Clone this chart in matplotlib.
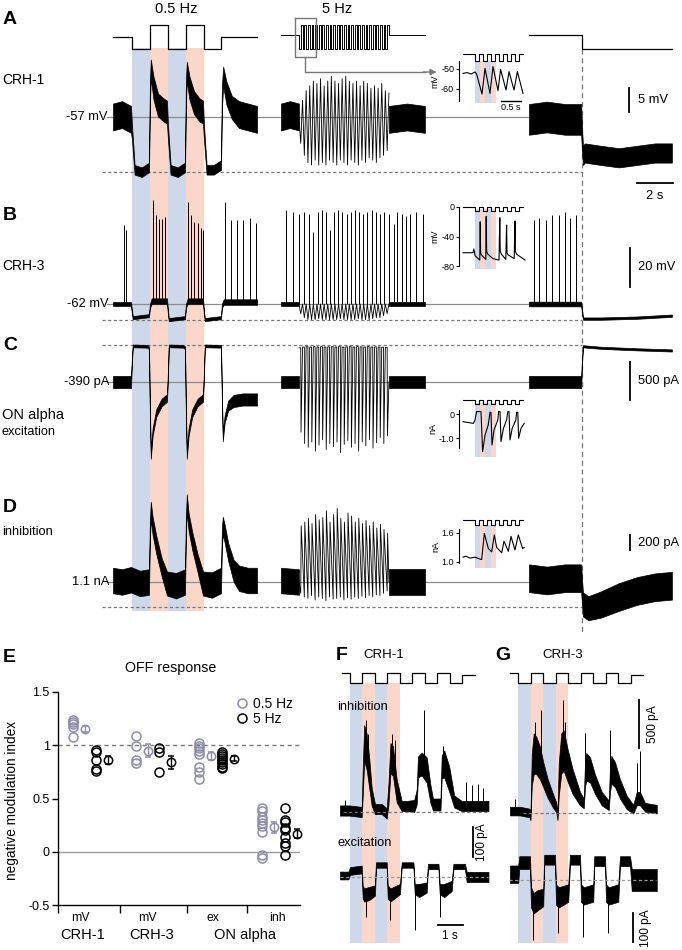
import numpy as np
import matplotlib
matplotlib.use('Agg')
import matplotlib.pyplot as plt
from matplotlib.lines import Line2D

plt.rcParams['font.family'] = ['Liberation Sans', 'DejaVu Sans']
plt.rcParams['axes.unicode_minus'] = False

# ======================= DATA =======================
# --- stimulus schedules (s) ---
stim1_t = [0, 1.05, 2.05, 3.05, 4.05, 5.05, 6.0, 8.0]
stim1_v = [0, -1, 1, -1, 1, -1, 0, 0]
band_edges = [1.05, 2.05, 3.05, 4.05, 5.05]
fast_start, fast_period, fast_cycles = 1.0, 0.2, 25
stim3_t = [0, 2.95, 7.94]
stim3_v = [0.15, -1, -1]
seg_start = [0.0, 9.33, 23.11]
step_time = 23.11 + 2.95

# --- Panel A, CRH-1 (mV) ---
A1_t = [0.0, 0.5, 1.0, 1.05, 1.2, 1.6, 2.0, 2.05, 2.1, 2.25, 2.5, 2.8, 3.0, 3.05, 3.2, 3.6, 4.0,
        4.05, 4.1, 4.25, 4.5, 4.8, 5.0, 5.05, 5.2, 5.6, 6.0, 6.05, 6.12, 6.3, 6.6, 7.0, 7.5, 8.0]
A1_mid = [-57, -56.5, -57.5, -60, -68, -68.5, -67.5, -52, -47, -51, -54.5, -55.5, -56, -60, -68, -68.5, -67.5,
          -52, -47.5, -51, -54, -55.5, -56, -60, -68, -68, -67, -53, -48.5, -52, -55, -56.5, -57, -57.5]
A1_hw = [2.8, 2.8, 2.8, 1.6, 1.0, 1.0, 1.0, 2.4, 2.0, 2.4, 2.4, 2.4, 2.4, 1.6, 1.0, 1.0, 1.0,
         2.4, 2.0, 2.4, 2.4, 2.4, 2.4, 1.6, 1.0, 1.0, 1.0, 2.4, 2.0, 2.4, 2.4, 2.8, 2.8, 2.8]
A2_pre = ([0, 0.5, 1.0], [-57, -56.5, -57], [2.8, 2.8, 2.8])
A2_post = ([6.0, 7.0, 8.0], [-57.5, -57, -57.5], [2.8, 2.8, 2.8])
A2_peaks = [-53.5, -51.5, -50.5, -49.5, -50, -49, -50.5, -49.5, -48.5, -49.5, -50, -49, -48.5,
            -49.5, -50, -49.5, -50.5, -49.5, -50, -51, -50.5, -51, -50, -51.5, -52]
A2_troughs = [-62.5, -65, -66.5, -67, -66, -67, -66.5, -67, -66, -66.5, -67, -66, -66.5,
              -67, -66, -66.5, -67, -66, -66.5, -65.5, -66, -66.5, -65.5, -65, -64]
A3_t = [0, 1, 2, 2.9, 2.95, 3.0, 3.1, 4, 5, 6, 7, 7.94]
A3_mid = [-57.5, -57, -57.5, -57.5, -62, -65, -64.5, -65, -65.5, -65, -64.5, -64.5]
A3_hw = [3.2, 3.2, 3.2, 3.2, 2.4, 2, 2, 2, 2, 2, 2, 2]

# --- Panel B, CRH-3 (mV) ---
B1_t = [0, 1.0, 1.05, 1.1, 2.0, 2.05, 2.15, 3.0, 3.05, 3.1, 4.0, 4.05, 4.15, 5.0, 5.05, 5.1, 6.0, 6.05, 6.15, 8.0]
B1_mid = [-62, -62, -66, -69, -68, -63, -60.5, -60.5, -66, -70, -69, -63, -60.5, -60.5, -66, -70, -69, -63, -61, -61]
B1_hw = [1, 1, 1, 0.8, 0.8, 1, 1.4, 1.4, 1, 0.8, 0.8, 1, 1.4, 1.4, 1, 0.8, 0.8, 1, 1.4, 1.4]
B1_spk_t = [0.61, 0.72, 2.22, 2.39, 2.56, 2.72, 2.89, 4.17, 4.33, 4.5, 4.72, 4.89, 5.0,
            6.22, 6.56, 6.89, 7.22, 7.61, 7.95]
B1_spk_v = [-21.5, -24, -8.7, -16.4, -18.4, -18.4, -17.4, -9.7, -16.4, -20, -20.5, -23, -24,
            -9.7, -19, -19, -19, -18, -20.5]
B2_pre = ([0, 1.0], [-62, -62], [1, 1])
B2_post = ([6.0, 8.0], [-62, -62], [1, 1])
B2_troughs = [-67, -69, -70, -70, -70, -69.5, -70, -70, -70, -70, -70, -69.5, -70,
              -70, -70, -70, -69.5, -70, -70, -70, -69.5, -69, -69, -68, -67]
B2_spk_t = [0.28, 0.67, 1.0, 1.28, 1.56, 1.78, 2.06, 2.28, 2.5, 2.72, 2.94, 3.17, 3.39, 3.67, 3.89, 4.11,
            4.33, 4.56, 4.78, 5.06, 5.28, 5.5, 5.72, 6.0, 6.28, 6.44, 6.72, 6.94, 7.17, 7.5, 7.89]
B2_spk_v = [-14, -15, -16, -15, -16, -25, -15, -14, -15, -24, -15, -14, -15, -16, -15, -14,
            -15, -16, -15, -14, -15, -16, -15, -16, -21, -15, -16, -17, -16, -15, -16]
B3_t = [0, 2.9, 2.95, 3.0, 4, 6, 7.94]
B3_mid = [-62, -62, -66, -69.5, -69.5, -69, -68]
B3_hw = [1.2, 1.2, 1, 0.6, 0.6, 0.6, 0.6]
B3_spk_t = [0.28, 0.56, 0.94, 1.28, 1.67, 2.0, 2.28, 2.61]
B3_spk_v = [-19, -18, -19, -16.4, -16.4, -14.8, -18, -16.4]

# --- Panel C, ON alpha excitation (pA) ---
C1_t = [0, 1.0, 1.05, 1.1, 1.9, 2.0, 2.05, 2.1, 2.2, 2.4, 2.7, 3.0, 3.05, 3.1, 3.9, 4.0,
        4.05, 4.1, 4.2, 4.4, 4.7, 5.0, 5.05, 5.1, 6.0, 6.05, 6.1, 6.2, 6.4, 6.7, 7.2, 8.0]
C1_mid = [-390, -390, -100, 85, 80, 60, -800, -1350, -1050, -800, -660, -600, -300, 85, 80, 60,
          -800, -1350, -1050, -800, -660, -600, -300, 85, 80, -600, -1120, -880, -700, -640, -620, -620]
C1_hw = [80, 80, 40, 18, 18, 18, 50, 50, 50, 50, 50, 50, 40, 18, 18, 18,
         50, 50, 50, 50, 50, 50, 40, 18, 18, 50, 50, 50, 65, 80, 80, 80]
C2_pre = ([0, 1.0], [-390, -390], [80, 80])
C2_post = ([6.0, 8.0], [-390, -390], [80, 80])
C2_tops = [60, 70, 75, 70, 75, 70, 75, 70, 72, 75, 70, 75, 70, 72, 75, 70, 75, 72, 70, 75, 70, 72, 70, 68, 65]
C2_troughs = [-1050, -1200, -1250, -1180, -1300, -1220, -1150, -1280, -1200, -1240, -1180, -1320, -1210,
              -1160, -1250, -1200, -1300, -1180, -1230, -1150, -1260, -1190, -1120, -1200, -1100]
C3_t = [0, 2.9, 2.95, 3.0, 4, 6, 7.94]
C3_mid = [-390, -390, -100, 80, 60, 40, 25]
C3_hw = [80, 80, 35, 14, 14, 14, 14]

# --- Panel D, ON alpha inhibition (pA) ---
D1_t = [0, 0.5, 1.0, 1.5, 2.0, 2.05, 2.1, 2.2, 2.4, 2.7, 3.0, 3.5, 4.0, 4.05, 4.1, 4.2, 4.4, 4.7, 5.0,
        5.5, 6.0, 6.05, 6.1, 6.2, 6.4, 6.7, 7.0, 7.5, 8.0]
D1_mid = [1120, 1100, 1130, 1080, 1100, 1800, 2050, 1850, 1600, 1300, 1080, 1050, 1100, 1850, 2150, 1900,
          1650, 1350, 1080, 1060, 1120, 1700, 1850, 1750, 1500, 1250, 1150, 1120, 1120]
D1_hw = [170, 170, 170, 170, 170, 120, 120, 120, 120, 120, 160, 170, 170, 120, 120, 120,
         120, 120, 160, 170, 170, 120, 120, 120, 120, 145, 170, 170, 170]
D2_pre = ([0, 1.0], [1120, 1100], [170, 170])
D2_post = ([6.0, 8.0], [1100, 1100], [170, 170])
D2_peaks = [1850, 1900, 1950, 1880, 2000, 1930, 1960, 2050, 1900, 2000, 2080, 1950, 1900,
            2020, 1980, 1900, 1950, 1880, 1920, 1850, 1900, 1820, 1870, 1800, 1750]
D2_troughs = [950, 900, 880, 920, 860, 900, 880, 850, 900, 870, 880, 900, 860,
              890, 870, 900, 880, 910, 890, 920, 900, 930, 920, 950, 980]
D3_t = [0, 1, 2, 2.9, 2.95, 3.0, 3.3, 4, 5, 6, 7, 7.94]
D3_mid = [1150, 1120, 1150, 1150, 950, 800, 750, 800, 900, 980, 1030, 1050]
D3_hw = [185, 185, 185, 185, 160, 160, 160, 175, 185, 185, 185, 185]

# reference levels (grey solid = resting, grey dashed = response level)
rest = {'A': -57, 'B': -62, 'C': -390, 'D': 1100}
dashlvl = {'A': -68.5, 'B': -70.2, 'C': 97, 'D': 767}

# --- insets (5 Hz zoom) ---
ins_stim_t = [0, 0.3, 0.4, 0.5, 0.6, 0.7, 0.8, 0.9, 1.0, 1.1, 1.2, 1.3, 1.4, 1.5]
ins_stim_v = [1, 0, 1, 0, 1, 0, 1, 0, 1, 0, 1, 0, 1, 1]
ins_band_edges = [0.3, 0.43, 0.56, 0.69, 0.82]
insA_t = [0, 0.1, 0.2, 0.3, 0.34, 0.475, 0.55, 0.675, 0.75, 0.875, 0.94, 1.075, 1.15, 1.275, 1.36, 1.5]
insA_v = [-52.2, -51.8, -52.5, -51.5, -52.5, -62.5, -49.7, -62.2, -48.8, -60.8, -50.2, -60.5, -51.3, -60.5, -51.3, -62.2]
insB_t = [0, 0.25, 0.27, 0.29, 0.3, 0.42, 0.43, 0.44, 0.46, 0.57, 0.58, 0.59, 0.62, 0.75, 0.9, 0.92,
          0.93, 0.96, 1.07, 1.09, 1.10, 1.13, 1.28, 1.30, 1.31, 1.34, 1.55]
insB_v = [-62, -62, -57, -62, -66, -72, -20, -62, -65, -71, -13, -60, -64, -70, -72, -14.5,
          -60, -64, -71, -24.5, -62, -65, -70, -19, -60, -64, -72]
insC_t = [0, 0.26, 0.30, 0.34, 0.45, 0.49, 0.55, 0.63, 0.675, 0.70, 0.725, 0.775, 0.87, 0.89, 0.925,
          0.95, 1.01, 1.09, 1.12, 1.15, 1.175, 1.23, 1.32, 1.34, 1.37, 1.39, 1.45, 1.53]
insC_v = [-0.32, -0.39, -0.25, 0.10, 0.10, -1.57, -0.88, -0.46, 0.07, 0.07, -1.29, -0.67, -0.25, 0.10, 0.10,
          -1.15, -0.6, -0.25, 0.10, 0.10, -1.08, -0.6, -0.25, 0.07, 0.07, -1.01, -0.6, -0.39]
insD_t = [0, 0.067, 0.175, 0.3, 0.425, 0.467, 0.533, 0.633, 0.717, 0.783, 0.842, 0.967, 1.025,
          1.133, 1.2, 1.3, 1.383, 1.49, 1.53]
insD_v = [1.1, 1.12, 1.08, 1.1, 1.06, 1.05, 1.59, 1.28, 1.21, 1.56, 1.30, 1.19, 1.43,
          1.22, 1.53, 1.25, 1.56, 1.28, 1.30]

# --- Panel E: negative modulation index ---
groups_top = ['mV', 'mV', 'ex', 'inh']
groups_bottom = ['CRH-1', 'CRH-3', 'ON alpha']
e05 = [[1.24, 1.22, 1.20, 1.17, 1.08],
       [1.09, 0.99, 0.86, 0.83],
       [1.02, 0.99, 0.97, 0.95, 0.92, 0.80, 0.75, 0.68],
       [0.41, 0.38, 0.33, 0.30, 0.27, 0.24, 0.19, -0.03, -0.06]]
e5 = [[0.96, 0.94, 0.86, 0.78, 0.76],
      [0.97, 0.94, 0.75],
      [0.94, 0.92, 0.90, 0.88, 0.86, 0.84, 0.82, 0.80, 0.79],
      [0.41, 0.30, 0.28, 0.22, 0.20, 0.14, 0.08, 0.05, -0.03]]
mean05 = [1.15, 0.95, 0.90, 0.23]
sem05 = [0.03, 0.06, 0.04, 0.05]
mean5 = [0.86, 0.84, 0.875, 0.17]
sem5 = [0.04, 0.06, 0.02, 0.04]

# --- Panels F / G (pA) ---
FG_stim_t = [0, 0.33, 0.83, 1.33, 1.83, 2.33, 2.83, 3.33, 3.83, 4.33, 4.83, 5.33]
FG_stim_v = [1, 0, 1, 0, 1, 0, 1, 0, 1, 0, 0.8, 0.8]
FG_band_edges = [0.33, 0.83, 1.33, 1.83, 2.33]
FI_t = [-0.07, 0.3, 0.8, 0.85, 0.9, 1.0, 1.1, 1.2, 1.33, 1.6, 1.8, 1.87, 1.95, 2.05, 2.2, 2.4, 2.6,
        2.9, 3.0, 3.05, 3.2, 3.4, 3.55, 3.65, 3.95, 4.0, 4.1, 4.3, 4.5, 4.8, 5.2, 5.5, 5.87]
FI_mid = [5, 5, 0, 120, 230, 200, 130, 50, 10, 10, -5, 60, 180, 170, 70, 20, 20,
          20, 50, 150, 160, 140, 60, 25, 25, 150, 160, 110, 35, 20, 20, 20, 20]
FI_hw = [17, 17, 17, 50, 60, 60, 50, 30, 17, 17, 17, 35, 50, 50, 38, 17, 17,
         20, 25, 35, 38, 42, 30, 20, 20, 38, 45, 42, 20, 17, 17, 17, 17]
FI_spk_t = [0.13, 0.97, 1.05, 2.0, 2.13, 3.3, 4.05, 4.97, 5.2, 5.47, 5.67]
FI_spk_v = [40, 306, 260, 260, 240, 340, 220, 100, 90, 95, 80]
FI_spk_b = [10, 200, 180, 160, 150, 140, 150, 20, 20, 20, 20]
FE_t = [-0.07, 0.27, 0.33, 0.8, 0.84, 0.9, 1.1, 1.33, 1.37, 1.8, 1.84, 1.95, 2.33, 2.4, 2.87,
        2.92, 3.1, 3.4, 3.45, 3.87, 3.92, 4.1, 4.4, 4.47, 4.93, 5.0, 5.87]
FE_mid = [5, 5, 20, 25, -50, -60, -55, -45, 40, 40, -50, -60, -40, 40, 40,
          -40, -45, -35, 35, 35, -40, -45, -30, 35, 35, 0, 0]
FE_hw = [13, 13, 13, 13, 22, 22, 22, 17, 9, 9, 22, 22, 17, 9, 9,
         17, 22, 17, 9, 9, 17, 22, 17, 9, 9, 17, 17]
FE_spk_t = [0.97, 1.93, 2.93, 3.93]
FE_spk_v = [-133, -144, -178, -133]
FE_spk_b = [-50, -50, -40, -40]
GI_t = [0, 0.4, 0.78, 0.82, 0.87, 0.95, 1.05, 1.2, 1.33, 1.5, 1.73, 1.85, 1.9, 1.95, 2.05, 2.15, 2.3, 2.5,
        2.8, 2.95, 3.0, 3.05, 3.2, 3.4, 3.67, 3.95, 4.0, 4.05, 4.2, 4.4, 4.67, 4.93, 5.07, 5.2, 5.4, 5.87]
GI_mid = [20, 20, 0, -40, 450, 620, 600, 520, 400, 260, 120, 60, -40, 350, 620, 650, 500, 330,
          150, 100, 400, 480, 450, 300, 150, 80, 350, 450, 400, 250, 110, 40, 150, 150, 60, 40]
GI_hw = [45, 45, 45, 35, 170, 210, 195, 170, 130, 100, 70, 50, 35, 170, 210, 210, 170, 130,
         70, 50, 130, 145, 130, 100, 70, 50, 130, 145, 130, 100, 70, 45, 70, 70, 45, 45]
GI_spk_t = [0.2, 1.0, 1.23, 2.13, 2.2, 3.0, 4.0, 5.07, 5.2]
GI_spk_v = [150, 946, 1071, 1175, 950, 832, 863, 520, 650]
GI_spk_b = [20, 500, 500, 600, 550, 400, 350, 100, 100]
GE_t = [0, 0.33, 0.37, 0.8, 0.84, 0.95, 1.1, 1.33, 1.37, 1.8, 1.84, 1.95, 2.33, 2.4, 2.8,
        2.84, 2.95, 3.33, 3.37, 3.8, 3.84, 3.95, 4.33, 4.4, 4.8, 4.87, 5.87]
GE_mid = [20, 20, 60, 60, -60, -80, -70, -60, 70, 70, -50, -60, -45, 70, 70,
          -45, -55, -45, 65, 65, -45, -55, -45, 65, 65, 0, 0]
GE_hw = [30, 30, 22, 22, 35, 35, 35, 30, 17, 17, 35, 35, 30, 17, 17,
         30, 30, 30, 17, 17, 30, 30, 30, 17, 17, 38, 38]
GE_spk_t = [0.93, 1.93, 2.93, 3.93]
GE_spk_v = [-207, -184, -196, -184]
GE_spk_b = [-60, -50, -45, -45]

# ======================= STYLE / LAYOUT =======================
W, H = 682, 950
BLUE, RED = '#cdd8ea', '#fbd7ca'
GREY, DGREY = '#8c8c8c', '#777777'
C05 = '#8d8daa'
DASH = (0, (2.5, 2))

fig = plt.figure(figsize=(W / 100, H / 100), dpi=100)


def map_axes(xr, tr, pxt, yr, vr, pxv, box=(0, 0, W, H), z=2):
    x0, y0, x1, y1 = box
    ax = fig.add_axes([x0 / W, 1 - y1 / H, (x1 - x0) / W, (y1 - y0) / H], zorder=z)
    ax.patch.set_visible(False)
    ax.set_xlim(tr + (x0 - xr) / pxt, tr + (x1 - xr) / pxt)
    ax.set_ylim(vr + (yr - y1) / pxv, vr + (yr - y0) / pxv)
    ax.set_axis_off()
    return ax


def T(x, y, s, size=9.3, ha='left', va='center', **kw):
    fig.text(x / W, 1 - y / H, s, size=size, ha=ha, va=va, **kw)


def env(ax, t, mid, hw, off=0.0):
    t = np.asarray(t, float) + off
    mid = np.asarray(mid, float)
    hw = np.asarray(hw, float)
    ax.fill_between(t, mid - hw, mid + hw, facecolor='k', edgecolor='k', lw=0.5, zorder=3)


def bands(ax, edges, y0, y1, off=0.0):
    for i in range(len(edges) - 1):
        ax.fill_between([edges[i] + off, edges[i + 1] + off], y0, y1,
                        color=BLUE if i % 2 == 0 else RED, lw=0)


k = np.arange(fast_cycles)
half = fast_period / 2

# ----- band / guide axes (pixel y) -----
axBand = map_axes(113, 0, 18, 0, 0, -1, z=0)
bands(axBand, band_edges, 48, 611)
axBand.plot([step_time, step_time], [49, 632], ls=(0, (4, 3)), color=DGREY, lw=0.9)

# ----- stimulus (top) -----
axS = map_axes(113, 0, 18, 37, 0, 12)
axS.plot(np.array(stim1_t) + seg_start[0], stim1_v, drawstyle='steps-post', color='k', lw=0.9)
fast_t = fast_start + half * np.arange(2 * fast_cycles)
fast_v = np.where(np.arange(2 * fast_cycles) % 2 == 0, -1, 1)
s2t = np.concatenate([[0], fast_t, [fast_start + fast_cycles * fast_period, 8.0]]) + seg_start[1]
s2v = np.concatenate([[0.15], fast_v, [0.15, 0.15]])
axS.plot(s2t, s2v, drawstyle='steps-post', color='k', lw=0.7)
axS.plot(np.array(stim3_t) + seg_start[2], stim3_v, drawstyle='steps-post', color='k', lw=0.9)
# inset marker box + arrow
bx0, bx1 = seg_start[1] + 0.77, seg_start[1] + 1.95
axS.plot([bx0, bx1, bx1, bx0, bx0], [1.58, 1.58, -1.67, -1.67, 1.58], color=DGREY, lw=1)
ax_m = (bx0 + bx1) / 2
axS.plot([ax_m, ax_m, seg_start[1] + 8.0], [-1.67, -2.92, -2.92], color=DGREY, lw=1)
axS.annotate('', xy=(seg_start[1] + 8.65, -2.92), xytext=(seg_start[1] + 7.9, -2.92),
             arrowprops=dict(arrowstyle='-|>', color=DGREY, lw=1, mutation_scale=9,
                             shrinkA=0, shrinkB=0))


def guides(ax, key):
    ax.plot([-0.33, step_time], [rest[key]] * 2, color=GREY, lw=0.9, zorder=1)
    ax.plot([-0.61, step_time], [dashlvl[key]] * 2, color=DGREY, lw=0.9, ls=DASH, zorder=1)


# ----- Panel A -----
axA = map_axes(113, 0, 18, 117, -57, 4.8)
guides(axA, 'A')
env(axA, A1_t, A1_mid, A1_hw, seg_start[0])
env(axA, *A2_pre, off=seg_start[1])
env(axA, *A2_post, off=seg_start[1])
tt = [fast_start]
vv = [A2_pre[1][-1]]
for i in k:
    tt += [fast_start + half + fast_period * i, fast_start + 2 * half + fast_period * i]
    vv += [A2_troughs[i], A2_peaks[i]]
axA.plot(np.array(tt) + seg_start[1], vv, color='k', lw=0.6, zorder=3)
env(axA, A3_t, A3_mid, A3_hw, seg_start[2])
axA.plot([28.67, 28.67], [-51, -56], color='k', lw=1.3)
axA.plot([29.1, 31.1], [-70.75, -70.75], color='k', lw=1.3)

# ----- Panel B -----
axB = map_axes(113, 0, 18, 304, -62, 1.95)
guides(axB, 'B')
env(axB, B1_t, B1_mid, B1_hw, seg_start[0])
axB.vlines(np.array(B1_spk_t) + seg_start[0], -61.5, B1_spk_v, color='k', lw=0.7, zorder=3)
env(axB, *B2_pre, off=seg_start[1])
env(axB, *B2_post, off=seg_start[1])
tt = [fast_start]
vv = [-62]
for i in k:
    tt += [fast_start + half + fast_period * i, fast_start + 2 * half + fast_period * i]
    vv += [B2_troughs[i], rest['B']]
axB.plot(np.array(tt) + seg_start[1], vv, color='k', lw=0.6, zorder=3)
axB.vlines(np.array(B2_spk_t) + seg_start[1], -62, B2_spk_v, color='k', lw=0.7, zorder=3)
env(axB, B3_t, B3_mid, B3_hw, seg_start[2])
axB.vlines(np.array(B3_spk_t) + seg_start[2], -61.5, B3_spk_v, color='k', lw=0.7, zorder=3)
axB.plot([28.72, 28.72], [-33.3, -53.3], color='k', lw=1.3)

# ----- Panel C -----
axC = map_axes(113, 0, 18, 382, -390, 0.076)
guides(axC, 'C')
env(axC, C1_t, C1_mid, C1_hw, seg_start[0])
env(axC, *C2_pre, off=seg_start[1])
env(axC, *C2_post, off=seg_start[1])
tt, vv = [], []
for i in k:
    t0 = fast_start + fast_period * i
    tt += [t0, t0 + half, t0 + half + 0.015]
    vv += [C2_tops[i], C2_tops[i], C2_troughs[i]]
tt += [fast_start + fast_period * fast_cycles]
vv += [rest['C']]
axC.plot(np.array(tt) + seg_start[1], vv, color='k', lw=0.6, zorder=3)
env(axC, C3_t, C3_mid, C3_hw, seg_start[2])
axC.plot([28.72, 28.72], [-132, -632], color='k', lw=1.3)

# ----- Panel D -----
axD = map_axes(113, 0, 18, 582, 1100, 0.075)
guides(axD, 'D')
env(axD, D1_t, D1_mid, D1_hw, seg_start[0])
env(axD, *D2_pre, off=seg_start[1])
env(axD, *D2_post, off=seg_start[1])
tt, vv = [fast_start], [D2_pre[1][-1]]
for i in k:
    t0 = fast_start + fast_period * i + half
    tt += [t0, t0 + 0.025]
    vv += [D2_troughs[i], D2_peaks[i]]
tt += [fast_start + fast_period * fast_cycles]
vv += [rest['D']]
axD.plot(np.array(tt) + seg_start[1], vv, color='k', lw=0.6, zorder=3)
env(axD, D3_t, D3_mid, D3_hw, seg_start[2])
axD.plot([28.72, 28.72], [1733, 1533], color='k', lw=1.3)


# ----- insets -----
def inset(box, yr, vr, pxv, ticks, labels, ylabel, stim_hi, stim_lo, band_y0, band_y1, t, v):
    axb = map_axes(463, 0, 40, 0, 0, -1, z=1)
    bands(axb, ins_band_edges, band_y0, band_y1)
    axs = map_axes(463, 0, 40, stim_lo, 0, stim_lo - stim_hi, z=3)
    axs.plot(ins_stim_t, ins_stim_v, drawstyle='steps-post', color='k', lw=0.8)
    ax = map_axes(463, 0, 40, yr, vr, pxv, box, z=3)
    ax.set_axis_on()
    for s in ['top', 'right', 'bottom']:
        ax.spines[s].set_visible(False)
    ax.spines['left'].set_linewidth(0.8)
    ax.set_xticks([])
    ax.set_yticks(ticks)
    ax.set_yticklabels(labels, fontsize=6.5)
    ax.tick_params(axis='y', length=2.5, width=0.8, pad=1)
    ax.set_ylabel(ylabel, fontsize=6.5, labelpad=1)
    ax.plot(t, v, color='k', lw=0.8, clip_on=False)
    return ax


iA = inset((459, 61, 526, 101), 69, -50, 2, [-50, -60], ['-50', '-60'], 'mV', 54, 61, 61, 103, insA_t, insA_v)
iA.plot([0.95, 1.45], [-66, -66], color='k', lw=1, clip_on=False)
T(511, 108, '0.5 s', size=6.5, ha='center')
inset((459, 207, 526, 266), 207, 0, 0.7375, [0, -40, -80], ['0', '-40', '-80'], 'mV', 207, 211, 209, 269,
      insB_t, insB_v)
inset((459, 410, 526, 448), 414, 0, 24, [0, -1.0], ['0', '-1.0'], 'nA', 400, 404, 403, 457, insC_t, insC_v)
inset((459, 529, 526, 563), 533, 1.6, 48.3, [1.6, 1.0], ['1.6', '1.0'], 'nA', 520, 525, 525, 568,
      insD_t, insD_v)

# ----- texts for A-D -----
LW = 'bold'
T(3, 19, 'A', size=14, weight=LW)
T(2, 80, 'CRH-1', size=10)
T(176, 9, '0.5 Hz', size=10.5, ha='center')
T(337, 9, '5 Hz', size=10.5, ha='center')
T(108, 117, '-57 mV', ha='right')
T(638, 100, '5 mV')
T(655, 196, '2 s', ha='center')
T(3, 215, 'B', size=14, weight=LW)
T(2, 266, 'CRH-3', size=10)
T(109, 304, '-62 mV', ha='right')
T(638, 267, '20 mV')
T(3, 345, 'C', size=14, weight=LW)
T(2, 415, 'ON alpha', size=10.5)
T(2, 432, 'excitation', size=9.2)
T(109, 382, '-390 pA', ha='right')
T(638, 381, '500 pA')
T(3, 507, 'D', size=14, weight=LW)
T(2, 532, 'inhibition', size=9.3)
T(109, 582, '1.1 nA', ha='right')
T(638, 543, '200 pA')

# ----- Panel E -----
axE = fig.add_axes([58 / W, 1 - 905 / H, 242 / W, 213 / H])
axE.patch.set_visible(False)
axE.set_xlim(-0.516, 3.325)
axE.set_ylim(-0.5, 1.5)
for s in ['top', 'right']:
    axE.spines[s].set_visible(False)
for s in ['left', 'bottom']:
    axE.spines[s].set_linewidth(1)
axE.set_yticks([-0.5, 0, 0.5, 1, 1.5])
axE.set_yticklabels(['-0.5', '0', '0.5', '1', '1.5'], fontsize=9)
axE.set_xticks([-0.516, 0.47, 1.53, 2.48])
axE.set_xticklabels([])
axE.tick_params(axis='y', length=4, width=1, pad=2)
axE.tick_params(axis='x', length=6, width=1)
axE.axhline(1, color=DGREY, lw=1, ls=(0, (3, 2.5)), zorder=0)
axE.axhline(0, color='#999999', lw=1, zorder=0)
offs = [-0.28, -0.09, 0.09, 0.28]
for g in range(4):
    axE.plot([g + offs[0]] * len(e05[g]), e05[g], 'o', ls='none', mfc='none', mec=C05, ms=6.5, mew=1.1,
             clip_on=False)
    axE.errorbar([g + offs[1]], [mean05[g]], yerr=[sem05[g]], fmt='o', mfc='none', mec=C05, ecolor=C05,
                 ms=6, mew=1.1, elinewidth=1, capsize=2, capthick=1, clip_on=False)
    axE.plot([g + offs[2]] * len(e5[g]), e5[g], 'o', ls='none', mfc='none', mec='k', ms=6.5, mew=1.1,
             clip_on=False)
    axE.errorbar([g + offs[3]], [mean5[g]], yerr=[sem5[g]], fmt='o', mfc='none', mec='k', ecolor='k',
                 ms=6, mew=1.1, elinewidth=1, capsize=2, capthick=1, clip_on=False)
handles = [Line2D([], [], marker='o', ls='none', mfc='none', mec=C05, ms=6.5, mew=1.1),
           Line2D([], [], marker='o', ls='none', mfc='none', mec='k', ms=6.5, mew=1.1)]
axE.legend(handles, ['0.5 Hz', '5 Hz'], loc='upper left', bbox_to_anchor=(236 / W, 1 - 697 / H),
           bbox_transform=fig.transFigure, frameon=False, fontsize=10, handlelength=0.8,
           handletextpad=0.4, labelspacing=0.05, borderpad=0, borderaxespad=0)
T(3, 657, 'E', size=14, weight=LW)
T(171, 668, 'OFF response', size=10.3, ha='center')
T(12, 800, 'negative modulation index', size=9.8, ha='center', rotation=90)
for x, s in zip([80, 147, 213, 277], groups_top):
    T(x, 918, s, size=8.8, ha='center')
for x, s in zip([83, 152, 245], groups_bottom):
    T(x, 935, s, size=10.5, ha='center')


# ----- Panels F / G -----
def fg_panel(x0, inh, exc, inh_scale, exc_scale, yinh, yexc, dash_inh_t0):
    ab = map_axes(x0, 0, 25, 0, 0, -1, z=1)
    bands(ab, FG_band_edges, 683, 943)
    ast = map_axes(x0, 0, 25, 683, 0, 10)
    ast.plot(FG_stim_t, FG_stim_v, drawstyle='steps-post', color='k', lw=0.9)
    ai = map_axes(x0, 0, 25, yinh, 0, inh_scale)
    ai.plot([dash_inh_t0, 5.85], [0, 0], color=DGREY, lw=0.9, ls=DASH, zorder=5)
    env(ai, *inh[:3])
    ai.vlines(inh[3], inh[5], inh[4], color='k', lw=0.7, zorder=3)
    ae = map_axes(x0, 0, 25, yexc, 0, exc_scale)
    env(ae, *exc[:3])
    ae.vlines(exc[3], exc[5], exc[4], color='k', lw=0.7, zorder=3)
    ae.plot([-0.05, 5.85], [0, 0], color='#9a9a9a', lw=0.9, ls=DASH, zorder=5)
    return ai, ae


fi, fe = fg_panel(341.7, (FI_t, FI_mid, FI_hw, FI_spk_t, FI_spk_v, FI_spk_b),
                  (FE_t, FE_mid, FE_hw, FE_spk_t, FE_spk_v, FE_spk_b), 0.3, 0.3, 812, 877, 0.07)
fi.plot([5.25, 5.25], [-50, -150], color='k', lw=1.3)
fe.plot([3.85, 4.85], [-160, -160], color='k', lw=1.3)
gi, ge = fg_panel(510, (GI_t, GI_mid, GI_hw, GI_spk_t, GI_spk_v, GI_spk_b),
                  (GE_t, GE_mid, GE_hw, GE_spk_t, GE_spk_v, GE_spk_b), 0.096, 0.29, 813, 880, 0.53)
gi.plot([5.16, 5.16], [1177, 677], color='k', lw=1.3)
ge.plot([4.92, 4.92], [-114, -214], color='k', lw=1.3)

T(342, 655, 'F', size=14, weight=LW, ha='center')
T(384, 655, 'CRH-1', size=9.5, ha='center')
T(503, 655, 'G', size=14, weight=LW, ha='center')
T(563, 655, 'CRH-3', size=9.5, ha='center')
T(337, 707, 'inhibition', size=9.3)
T(337, 843, 'excitation', size=9.3)
T(482, 842, '100 pA', size=8.6, ha='center', rotation=90)
T(450, 936, '1 s', size=8.6, ha='center')
T(653, 724, '500 pA', size=8.6, ha='center', rotation=90)
T(646, 928, '100 pA', size=8.6, ha='center', rotation=90)

fig.savefig('out.png', dpi=100)
